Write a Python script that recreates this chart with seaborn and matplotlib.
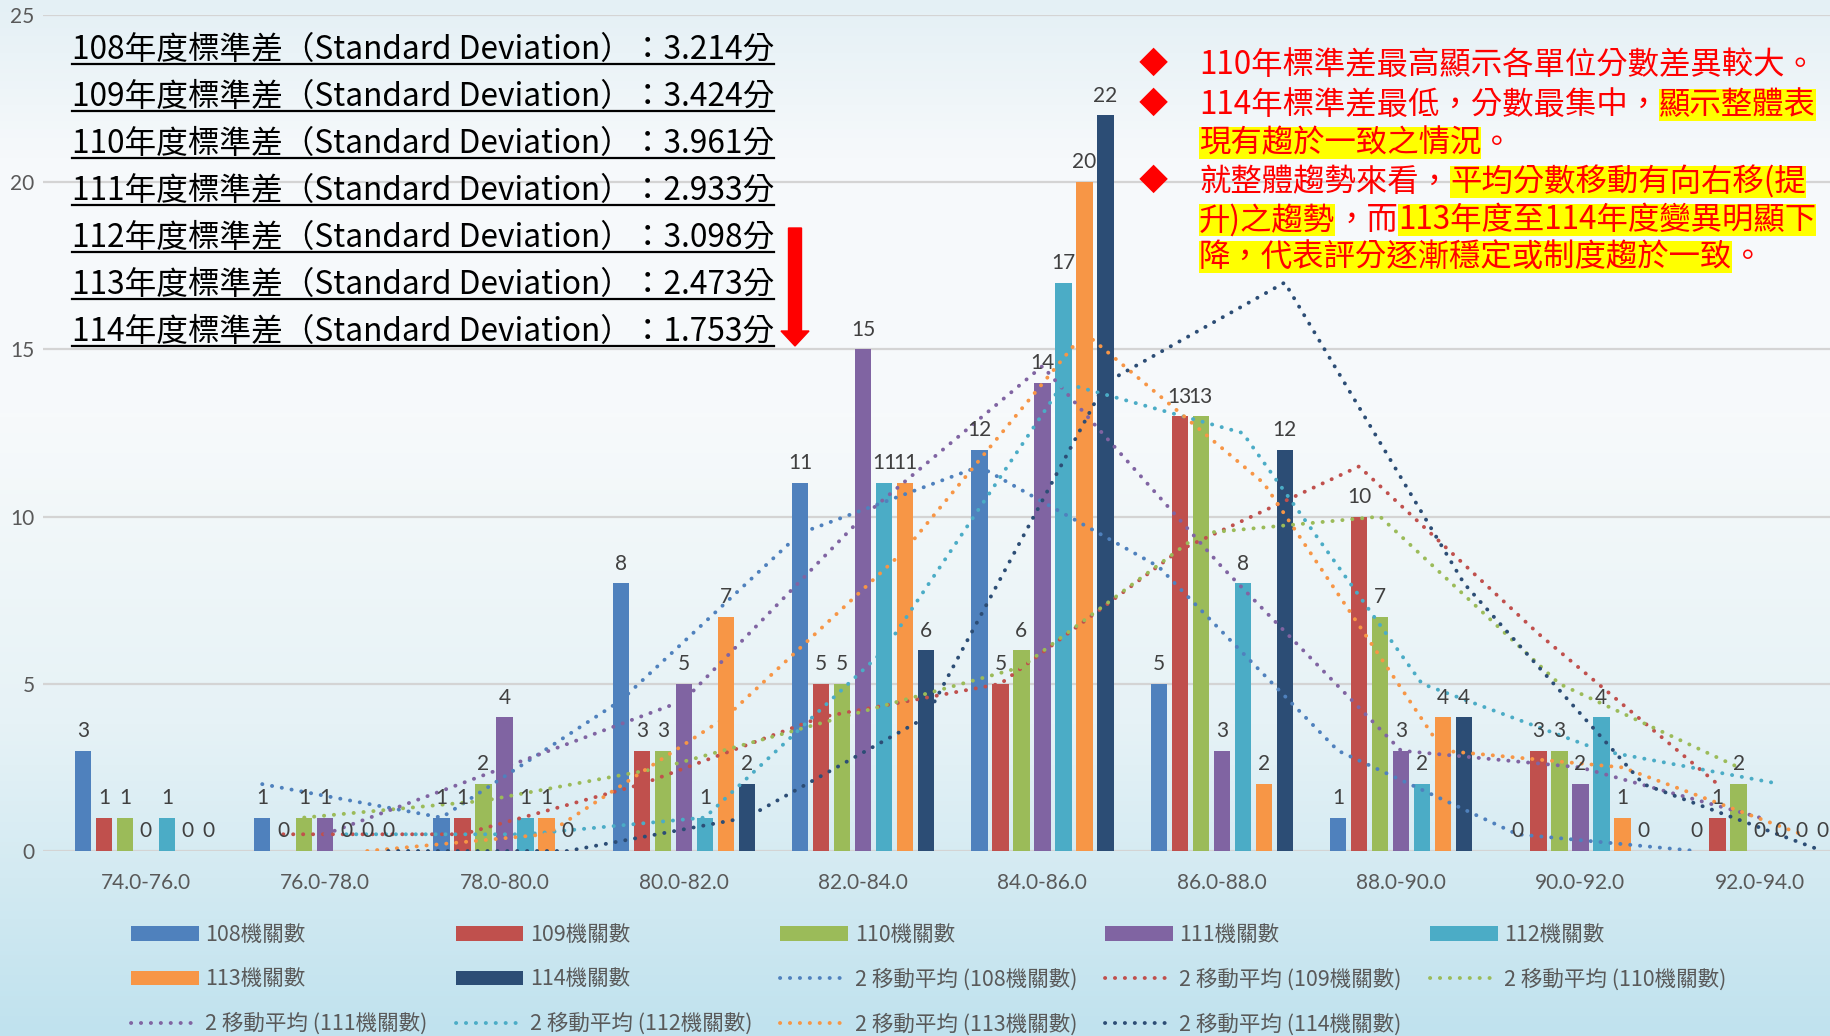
import numpy as np
import pandas as pd
import matplotlib
matplotlib.use('Agg')
import matplotlib.pyplot as plt
import matplotlib.transforms as mtransforms
from matplotlib.colors import LinearSegmentedColormap
from matplotlib.patches import Patch, Rectangle, FancyArrow
from matplotlib.lines import Line2D
import seaborn as sns

# score ranges on the x axis
categories = ['74.0-76.0', '76.0-78.0', '78.0-80.0', '80.0-82.0', '82.0-84.0',
              '84.0-86.0', '86.0-88.0', '88.0-90.0', '90.0-92.0', '92.0-94.0']
years = ['108', '109', '110', '111', '112', '113', '114']

# number of agencies per score range, one list per year
counts_108 = [3, 1, 1, 8, 11, 12, 5, 1, 0, 0]
counts_109 = [1, 0, 1, 3, 5, 5, 13, 10, 3, 1]
counts_110 = [1, 1, 2, 3, 5, 6, 13, 7, 3, 2]
counts_111 = [0, 1, 4, 5, 15, 14, 3, 3, 2, 0]
counts_112 = [1, 0, 1, 1, 11, 17, 8, 2, 4, 0]
counts_113 = [0, 0, 1, 7, 11, 20, 2, 4, 1, 0]
counts_114 = [0, 0, 0, 2, 6, 22, 12, 4, 0, 0]

std_devs = ['3.214', '3.424', '3.961', '2.933', '3.098', '2.473', '1.753']

colors = ['#4F81BD', '#C0504D', '#9BBB59', '#8064A2', '#4BACC6', '#F79646', '#2C4D75']

all_counts = [counts_108, counts_109, counts_110, counts_111, counts_112, counts_113, counts_114]
df = pd.DataFrame([
    {'range': c, 'year': y, 'count': v}
    for y, vals in zip(years, all_counts)
    for c, v in zip(categories, vals)
])

CJK = ['Noto Sans CJK TC', 'DejaVu Sans']
W, H = 1831, 1036
fig = plt.figure(figsize=(W / 100, H / 100), dpi=100)
ident = mtransforms.IdentityTransform()

# slide-like background gradient
bg = fig.add_axes([0, 0, 1, 1], zorder=-5)
cmap = LinearSegmentedColormap.from_list('bg', [
    (0.0, '#e4f0f5'), (0.15, '#f6f9fb'), (0.4, '#f7fafb'),
    (0.7, '#e6f2f6'), (0.85, '#d3eaf2'), (1.0, '#c0e2ee')])
bg.imshow(np.linspace(0, 1, 256).reshape(-1, 1), cmap=cmap, aspect='auto',
          extent=[0, 1, 0, 1], origin='upper')
bg.axis('off')

ax = fig.add_axes([43 / W, 185 / H, (W - 43) / W, 836 / H])
ax.patch.set_alpha(0)

sns.barplot(data=df, x='range', y='count', hue='year', order=categories,
            hue_order=years, palette=colors, saturation=1, width=0.82, gap=0.22,
            errorbar=None, legend=False, ax=ax)

ax.set_xlim(-0.574, 9.398)
ax.set_ylim(0, 25)
ax.set_yticks([0, 5, 10, 15, 20, 25])
ax.yaxis.grid(True, color='#D4D4D4', lw=1.6)
ax.set_axisbelow(True)
for s in ax.spines.values():
    s.set_visible(False)
ax.tick_params(length=0)
ax.tick_params(axis='x', pad=16, labelsize=15, labelcolor='#595959')
ax.tick_params(axis='y', pad=6, labelsize=15, labelcolor='#595959')
for lab in ax.get_xticklabels() + ax.get_yticklabels():
    lab.set_family('Lato')
ax.set_xlabel('')
ax.set_ylabel('')

dot = (0, (0.05, 2.5))
for cont, vals, col in zip(ax.containers, all_counts, colors):
    ax.bar_label(cont, fmt='%.0f', padding=7, fontsize=15, color='#404040',
                 family='Lato', zorder=6)
    xs = sorted(b.get_x() + b.get_width() / 2 for b in cont)
    ma = pd.Series(vals, index=xs).rolling(2).mean().dropna()
    ax.plot(ma.index, ma.values, color=col, lw=2.8, linestyle=dot,
            dash_capstyle='round', zorder=5)

# legend, row-major order
handles = [Patch(facecolor=c) for c in colors] + \
          [Line2D([], [], color=c, lw=2.8, linestyle=dot, dash_capstyle='round') for c in colors]
labels = [f'{y}機關數' for y in years] + [f'2 移動平均 ({y}機關數)' for y in years]
ncol = 5
order = [i for c in range(ncol) for i in range(c, len(handles), ncol)]
leg = fig.legend([handles[i] for i in order], [labels[i] for i in order], ncol=ncol,
                 loc='upper left', bbox_to_anchor=(131 / W, (H - 924) / H),
                 frameon=False, borderpad=0, borderaxespad=0, handlelength=3.15,
                 handleheight=0.65, handletextpad=0.3, columnspacing=1.3,
                 labelspacing=1.04, prop={'family': CJK, 'size': 15.5})
for t in leg.get_texts():
    t.set_color('#595959')

renderer = fig.canvas.get_renderer()

# standard deviation block (underlined)
underline_y = [64, 111, 158, 205, 252, 299, 346]
for y, sd, uy in zip(years, std_devs, underline_y):
    t = fig.text(72, H - uy + 5, f'{y}年度標準差（Standard Deviation）：{sd}分',
                 transform=ident, fontsize=22.8, color='black', va='baseline',
                 ha='left', family=CJK, zorder=5)
    bb = t.get_window_extent(renderer)
    fig.add_artist(Line2D([bb.x0, bb.x1], [H - uy, H - uy], transform=ident,
                          color='black', lw=1.6, zorder=5))

fig.add_artist(FancyArrow(795, H - 228, 0, -(346 - 228), width=13, head_width=28,
                          head_length=15, length_includes_head=True,
                          transform=ident, color='#FF0000', zorder=5))

# notes block on the right
note_lines = [
    [('110年標準差最高顯示各單位分數差異較大。', False)],
    [('114年標準差最低，分數最集中，', False), ('顯示整體表', True)],
    [('現有趨於一致之情況', True), ('。', False)],
    [('就整體趨勢來看，', False), ('平均分數移動有向右移(提', True)],
    [('升)之趨勢', True), ('，而', False), ('113年度至114年度變異明顯下', True)],
    [('降，代表評分逐漸穩定或制度趨於一致', True), ('。', False)],
]
line_y = [65, 105, 143, 182, 220, 257]
bullets = [0, 1, 3]
for i, (segs, ly) in enumerate(zip(note_lines, line_y)):
    x = 1199
    if i in bullets:
        fig.text(1153, H - ly, '◆', transform=ident, fontsize=21, color='#FF0000',
                 va='center', ha='center', family=CJK, zorder=5)
    for seg, hl in segs:
        t = fig.text(x, H - ly, seg, transform=ident, fontsize=22.6, color='#FF0000',
                     va='center', ha='left', family=CJK, zorder=5)
        bb = t.get_window_extent(renderer)
        if hl:
            fig.add_artist(Rectangle((bb.x0, H - ly - 16), bb.width, 32, transform=ident,
                                     facecolor='#FFFF00', edgecolor='none', zorder=4))
        x = bb.x1

fig.savefig('out.png', dpi=100)
